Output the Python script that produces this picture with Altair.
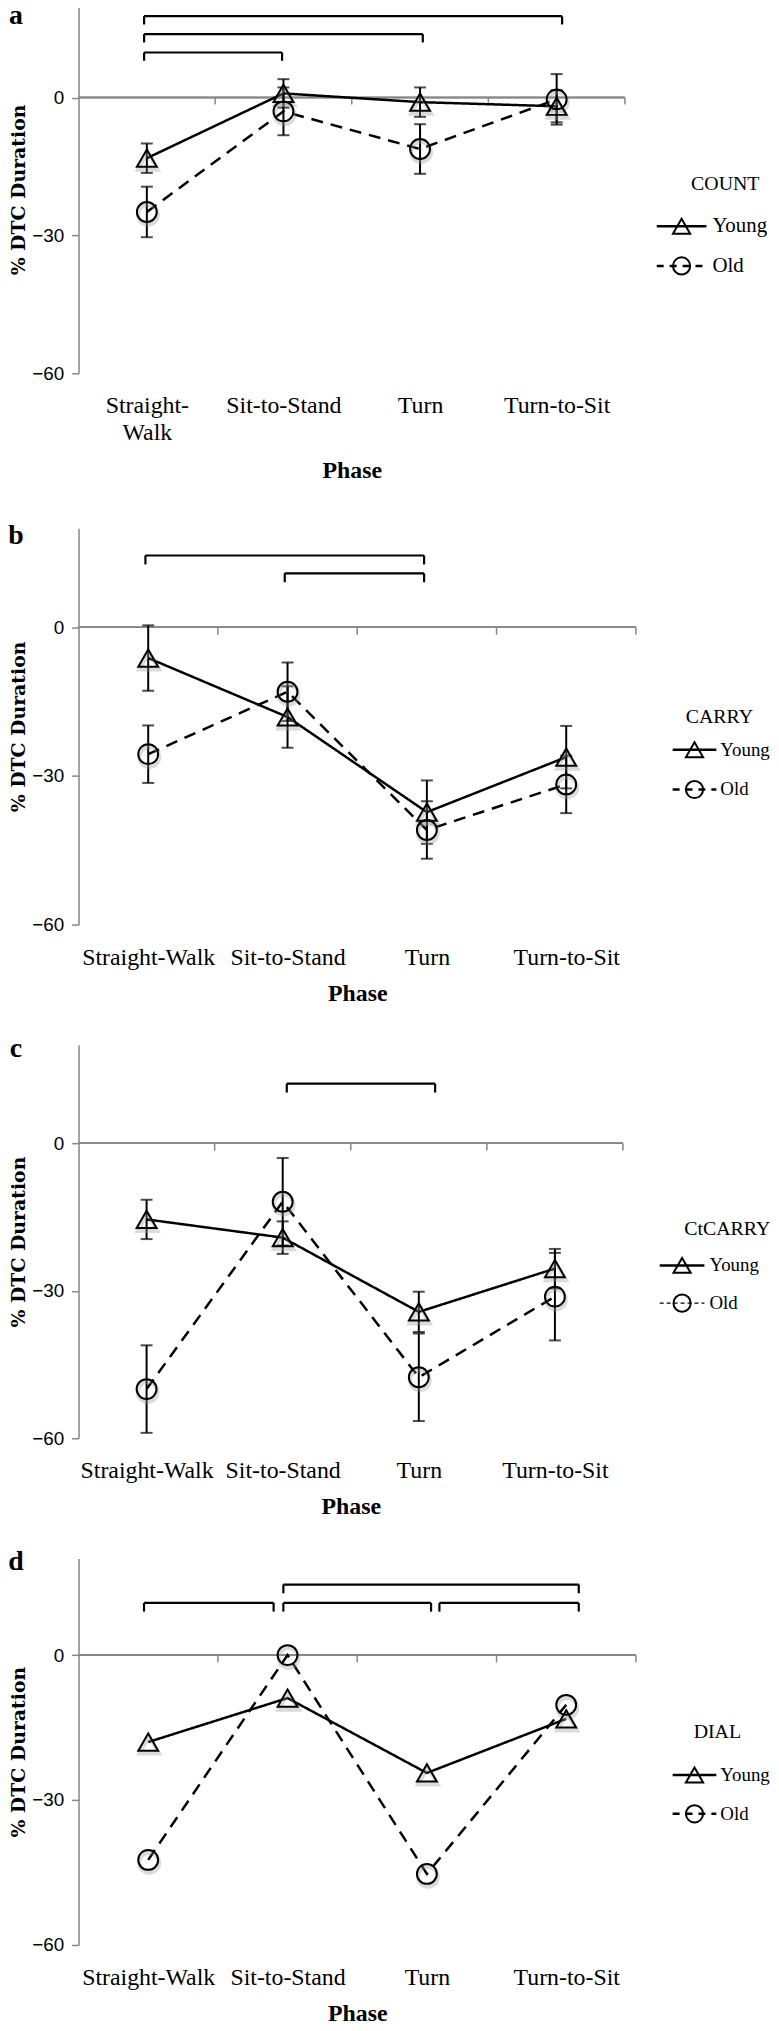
import altair as alt
import pandas as pd

phases = ["Straight-Walk", "Sit-to-Stand", "Turn", "Turn-to-Sit"]
groups = ["Young", "Old"]

# Panel a: COUNT
count_young = [-13.2, 0.9, -1.0, -1.9]
count_young_err = [3.2, 3.1, 3.2, 3.5]
count_old = [-24.9, -3.0, -11.2, -0.4]
count_old_err = [5.5, 5.2, 5.4, 5.5]
count_brackets_from = [0.48, 0.48, 0.48]
count_brackets_to = [1.49, 2.52, 3.54]
count_brackets_level = [9.8, 13.8, 17.7]

# Panel b: CARRY
carry_young = [-6.2, -18.1, -37.3, -26.2]
carry_young_err = [6.6, 6.2, 6.4, 6.3]
carry_old = [-25.6, -13.0, -40.9, -31.7]
carry_old_err = [5.8, 5.9, 5.8, 5.8]
carry_brackets_from = [0.48, 1.48]
carry_brackets_to = [2.48, 2.48]
carry_brackets_level = [14.5, 10.9]

# Panel c: CtCARRY
ctcarry_young = [-15.5, -19.2, -34.3, -25.5]
ctcarry_young_err = [4.0, 3.3, 4.1, 4.0]
ctcarry_old = [-50.0, -11.9, -47.6, -31.2]
ctcarry_old_err = [8.9, 8.9, 8.9, 8.9]
ctcarry_brackets_from = [1.53]
ctcarry_brackets_to = [2.62]
ctcarry_brackets_level = [12.1]

# Panel d: DIAL (no error bars)
dial_young = [-18.0, -8.9, -24.4, -13.2]
dial_old = [-42.4, 0.0, -45.3, -10.3]
dial_brackets_from = [0.47, 1.47, 2.59, 1.47]
dial_brackets_to = [1.40, 2.53, 3.59, 3.59]
dial_brackets_level = [10.8, 10.8, 10.8, 14.6]

y_ticks = [-60, -30, 0]
zero_ticks = [1, 2, 3, 4]

GRAY = "#878787"
SERIF = "Liberation Serif"


def label_expr(wrap):
    strs = []
    for n in phases:
        if wrap and n.startswith("Straight"):
            a, b = n.split("-", 1)
            strs.append(f"['{a}-', '{b}']")
        else:
            strs.append(f"'{n}'")
    expr = ""
    for i, s in enumerate(strs[:-1]):
        expr += f"datum.value < {i + 1} ? {s} : "
    return expr + strs[-1]


def panel(letter, name, young, old, young_err, old_err, bfrom, bto, blevel,
          width, height, old_dash, old_width, wrap, lay):
    rows = []
    for g, vals, errs in (("Young", young, young_err), ("Old", old, old_err)):
        for i, p in enumerate(phases):
            e = errs[i] if errs else 0
            rows.append({"phase": p, "pos": i + 0.5, "group": g, "value": vals[i],
                         "lo": vals[i] - e, "hi": vals[i] + e})
    df = pd.DataFrame(rows)

    xscale = alt.Scale(domain=[0, 4], nice=False, zero=False)
    yscale = alt.Scale(domain=[-60, 20], nice=False, zero=False)
    xaxis = alt.Axis(values=[0.5, 1.5, 2.5, 3.5], labelExpr=label_expr(wrap),
                     domain=False, ticks=False, tickSize=0, grid=False,
                     labelFont=SERIF, labelFontSize=24, labelColor="black",
                     labelPadding=21, labelLineHeight=27, labelAngle=0,
                     title="Phase", titleFont=SERIF, titleFontSize=24,
                     titleFontWeight="bold", titleColor="black",
                     titlePadding=lay["x_title_pad"])
    yaxis = alt.Axis(values=y_ticks, grid=False, domainColor=GRAY, domainWidth=1.5,
                     tickColor=GRAY, tickWidth=1.5, tickSize=7,
                     labelFont="Liberation Sans", labelFontSize=19, labelColor="black",
                     labelPadding=8, title="% DTC Duration", titleFont="DejaVu Serif",
                     titleFontSize=19, titleFontWeight="bold", titleColor="black",
                     titlePadding=3)

    def X(f):
        return alt.X(f, scale=xscale, axis=xaxis, title="Phase")

    def Y(f):
        return alt.Y(f, scale=yscale, axis=yaxis, title="% DTC Duration")

    def XD(v):
        return alt.XDatum(v, scale=xscale, axis=xaxis, title="Phase")

    def YD(v):
        return alt.YDatum(v, scale=yscale, axis=yaxis, title="% DTC Duration")

    base = alt.Chart(df)
    dash_scale = alt.Scale(domain=groups, range=[[1, 0], old_dash])
    width_scale = alt.Scale(domain=groups, range=[2.5, old_width])
    shape_scale = alt.Scale(domain=groups, range=["triangle-up", "circle"])

    zero_df = pd.DataFrame({"t": zero_ticks})
    zero_line = alt.Chart(zero_df).mark_rule(color=GRAY, strokeWidth=1.5).encode(
        x=XD(0), x2=alt.datum(4), y=YD(0))
    zero_tk = alt.Chart(zero_df).mark_rule(color=GRAY, strokeWidth=1.5).encode(
        x=X("t:Q"), y=YD(0), y2=alt.datum(-1.5))
    layers = [zero_line, zero_tk]

    if young_err:
        err_rule = base.mark_rule(color="black", strokeWidth=2).encode(
            x=X("pos:Q"), y=Y("lo:Q"), y2="hi:Q")
        cap_lo = base.mark_tick(orient="horizontal", size=12, thickness=2, color="black").encode(
            x=X("pos:Q"), y=Y("lo:Q"))
        cap_hi = base.mark_tick(orient="horizontal", size=12, thickness=2, color="black").encode(
            x=X("pos:Q"), y=Y("hi:Q"))
        layers += [err_rule, cap_lo, cap_hi]

    lines = base.mark_line(color="black").encode(
        x=X("pos:Q"), y=Y("value:Q"), detail="group:N",
        strokeDash=alt.StrokeDash("group:N", scale=dash_scale, legend=None),
        strokeWidth=alt.StrokeWidth("group:N", scale=width_scale, legend=None))
    layers.append(lines)

    shadows = base.mark_point(filled=False, color="#9a9a9a", opacity=0.35, strokeWidth=4,
                              size=400, xOffset=1, yOffset=3).encode(
        x=X("pos:Q"), y=Y("value:Q"),
        shape=alt.Shape("group:N", scale=shape_scale, legend=None))
    points = base.mark_point(filled=False, color="black", strokeWidth=2, size=400, opacity=1).encode(
        x=X("pos:Q"), y=Y("value:Q"),
        shape=alt.Shape("group:N", scale=shape_scale, legend=None))
    layers += [shadows, points]

    bdf = pd.DataFrame({"x1": bfrom, "x2": bto, "lvl": blevel})
    bdf["lvl_end"] = bdf["lvl"] - 1.8
    bh = alt.Chart(bdf).mark_rule(color="black", strokeWidth=2.2).encode(
        x=X("x1:Q"), x2="x2:Q", y=Y("lvl:Q"))
    bl = alt.Chart(bdf).mark_rule(color="black", strokeWidth=2.2).encode(
        x=X("x1:Q"), y=Y("lvl:Q"), y2="lvl_end:Q")
    br = alt.Chart(bdf).mark_rule(color="black", strokeWidth=2.2).encode(
        x=X("x2:Q"), y=Y("lvl:Q"), y2="lvl_end:Q")
    layers += [bh, bl, br]

    letter_df = pd.DataFrame({"t": [letter]})
    layers.append(alt.Chart(letter_df).mark_text(font=SERIF, fontSize=28, fontWeight="bold",
                                                 align="center", baseline="alphabetic",
                                                 color="black").encode(
        text="t:N", x=alt.value(-63), y=alt.value(lay["letter_y"])))

    # legend
    tdf = pd.DataFrame({"t": [name]})
    layers.append(alt.Chart(tdf).mark_text(font=SERIF, fontSize=20, align="center",
                                           baseline="middle", color="black").encode(
        text="t:N", x=alt.value(lay["title_x"]), y=alt.value(lay["title_y"])))
    shapes = {"Young": "triangle-up", "Old": "circle"}
    dashes = {"Young": [1, 0], "Old": [7, 6] if old_width > 2 else [4, 3]}
    widths = {"Young": 2.5, "Old": old_width}
    for g, yy in zip(groups, lay["rows_y"]):
        gdf = pd.DataFrame({"g": [g]})
        layers.append(alt.Chart(gdf).mark_rule(color="black", strokeWidth=widths[g],
                                               strokeDash=dashes[g]).encode(
            x=alt.value(lay["line_x"][0]), x2=alt.value(lay["line_x"][1]), y=alt.value(yy)))
        layers.append(alt.Chart(gdf).mark_point(shape=shapes[g], filled=False, color="black",
                                                strokeWidth=2, size=300, opacity=1).encode(
            x=alt.value((lay["line_x"][0] + lay["line_x"][1]) / 2), y=alt.value(yy)))
        layers.append(alt.Chart(gdf).mark_text(font=SERIF, fontSize=lay["label_size"],
                                               align="left", baseline="middle",
                                               color="black").encode(
            text="g:N", x=alt.value(lay["label_x"]), y=alt.value(yy)))

    return alt.layer(*layers).properties(width=width, height=height)


pa = panel("a", "COUNT", count_young, count_old, count_young_err, count_old_err,
           count_brackets_from, count_brackets_to, count_brackets_level,
           550, 370, [12, 8], 2.5, True,
           {"letter_y": 18, "title_x": 651, "title_y": 180, "rows_y": [222, 262],
            "line_x": [582, 632], "label_x": 638, "label_size": 21, "x_title_pad": 14})
pb = panel("b", "CARRY", carry_young, carry_old, carry_young_err, carry_old_err,
           carry_brackets_from, carry_brackets_to, carry_brackets_level,
           561, 399, [12, 8], 2.5, False,
           {"letter_y": 16, "title_x": 645, "title_y": 190, "rows_y": [223, 263],
            "line_x": [598, 642], "label_x": 646, "label_size": 19, "x_title_pad": 12})
pc = panel("c", "CtCARRY", ctcarry_young, ctcarry_old, ctcarry_young_err, ctcarry_old_err,
           ctcarry_brackets_from, ctcarry_brackets_to, ctcarry_brackets_level,
           548, 396, [5, 4], 1.2, False,
           {"letter_y": 12, "title_x": 653, "title_y": 185, "rows_y": [222, 260],
            "line_x": [585, 630], "label_x": 635, "label_size": 19, "x_title_pad": 12})
pd_ = panel("d", "DIAL", dial_young, dial_old, None, None,
            dial_brackets_from, dial_brackets_to, dial_brackets_level,
            561, 389, [12, 8], 2.5, False,
            {"letter_y": 12, "title_x": 643, "title_y": 175, "rows_y": [218, 257],
             "line_x": [598, 642], "label_x": 646, "label_size": 19, "x_title_pad": 12})

lower = alt.vconcat(pb, pc, pd_, spacing=30)
chart = alt.vconcat(pa, lower, spacing=40).properties(
    padding={"left": 0, "top": -13, "right": 0, "bottom": 0}
).configure_view(stroke=None)

chart.save("out.html", embed_options={"renderer": "svg", "actions": False})
